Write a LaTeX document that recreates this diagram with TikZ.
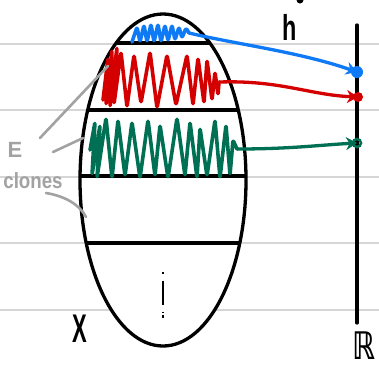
\documentclass[tikz,border=0pt]{standalone}
\usepackage{fontspec}
\setmainfont{Liberation Sans}
\newfontfamily\dejafont{DejaVu Sans}
\usetikzlibrary{arrows.meta}

\definecolor{scrblue}{RGB}{15,122,245}
\definecolor{scrred}{RGB}{212,0,0}
\definecolor{scrgreen}{RGB}{0,112,84}
\definecolor{pengray}{RGB}{162,162,162}
\definecolor{rulegray}{RGB}{214,214,214}

\tikzset{
  pen/.style={line width=3.3pt, line cap=round, line join=round},
  scribble/.style={pen, line width=3.6pt, rounded corners=1.5pt},
  ruled/.style={line width=1.5pt, draw=rulegray},
  pointer/.style={line width=2.6pt, draw=pengray, line cap=round},
  hit/.style={pen, -{Stealth[length=11pt,width=13pt]}},
}

\begin{document}
\begin{tikzpicture}[x=1pt,y=-1pt]
\useasboundingbox (0,0) rectangle (379,368);
\fill[white] (0,0) rectangle (379,368);

% --- ruled paper ---
\foreach \yy in {44,110,177,243,310}
  \draw[ruled] (0,\yy) -- (379,\yy);

% --- the set X with its slices ---
\fill[white] (163,180) ellipse [x radius=83, y radius=166];
\begin{scope}
  \clip (163,180) ellipse [x radius=83, y radius=166];
  \foreach \yy in {43,110,176,243}
    \draw[pen] (60,\yy) -- (270,\yy);
\end{scope}
\draw[pen] (163,180) ellipse [x radius=83, y radius=166];

% dots in the lowest slice
\draw[line width=2.4pt, dash pattern=on 1.5pt off 7pt on 24pt off 7pt on 1.5pt]
  (163,272) -- (163,318);

% --- scribbles ---
\draw[scribble, scrblue] (132,42) -- (137,27) -- (140,42) -- (144,25) -- (147,42)
  -- (151,24) -- (154,42) -- (158,24) -- (161,42) -- (165,25) -- (168,41)
  -- (172,25) -- (175,40) -- (179,27) -- (182,38) -- (186,28) -- (189,33);

\draw[scribble, scrred] (103,100) -- (108,58) -- (106,105) -- (112,50) -- (110,107)
  -- (117,47) -- (114,104) -- (121,52) -- (127,107) -- (134,55) -- (141,103)
  -- (150,52) -- (157,108) -- (167,55) -- (176,105) -- (187,55) -- (193,105)
  -- (198,58) -- (204,103) -- (207,60) -- (212,100) -- (215,72) -- (218,95)
  -- (219,82);

\draw[scribble, scrgreen] (90,150) -- (95,122) -- (92,175) -- (100,125) -- (97,178)
  -- (106,118) -- (112,178) -- (118,120) -- (125,176) -- (132,122) -- (140,178)
  -- (148,120) -- (155,176) -- (160,125) -- (168,178) -- (177,118) -- (185,176)
  -- (190,122) -- (197,178) -- (200,128) -- (207,176) -- (215,120) -- (220,178)
  -- (226,125) -- (230,175) -- (233,140) -- (237,149);

% --- the line R ---
\coordinate (rTop) at (357,25);
\coordinate (rBot) at (357,323);
\draw[pen] (rTop) -- (rBot);

% --- arrows of h ---
\coordinate (blueS) at (189,33);
\coordinate (redS) at (219,82);
\coordinate (greenS) at (237,149);
\coordinate (blueHit) at (357,72);
\coordinate (redHit) at (358,97);
\coordinate (greenHit) at (357,143);

\draw[hit, scrblue] (blueS) .. controls (235,44) and (300,52) .. (blueHit);
\draw[hit, scrred] (redS) .. controls (280,80) and (310,95) .. (redHit);
\draw[hit, scrgreen] (greenS) .. controls (290,149) and (320,145) .. (greenHit);

\fill[scrblue] (blueHit) circle [radius=6];
\fill[scrred] (redHit) circle [radius=5];
\draw[scrgreen, line width=2.5pt] (greenHit) circle [radius=4];

% --- labels ---
\node[font=\bfseries\fontsize{40}{40}\selectfont, xscale=0.55] (xLbl) at (80,329) {X};
\node[font=\bfseries\fontsize{36}{36}\selectfont, xscale=0.65] (hLbl) at (290,27) {h};
\node[font=\dejafont\bfseries\fontsize{38}{38}\selectfont, xscale=0.75] (rLbl) at (364,346) {ℝ};
\fill (300,0) circle [radius=3.5];

% --- E clones ---
\node[pengray, font=\bfseries\fontsize{22}{22}\selectfont] (eLbl) at (15,150) {E};
\node[pengray, font=\bfseries\fontsize{22}{22}\selectfont, xscale=0.85] (clLbl) at (33,181) {clones};
\coordinate (p1s) at (40,138);
\coordinate (p1e) at (108,66);
\coordinate (p2s) at (53,152);
\coordinate (p2e) at (83,138);
\coordinate (p3s) at (46,193);
\coordinate (p3e) at (86,217);
\draw[pointer] (p1s) -- (p1e);
\draw[pointer] (p2s) -- (p2e);
\draw[pointer] (p3s) .. controls (65,196) and (80,205) .. (p3e);

\end{tikzpicture}
\end{document}
